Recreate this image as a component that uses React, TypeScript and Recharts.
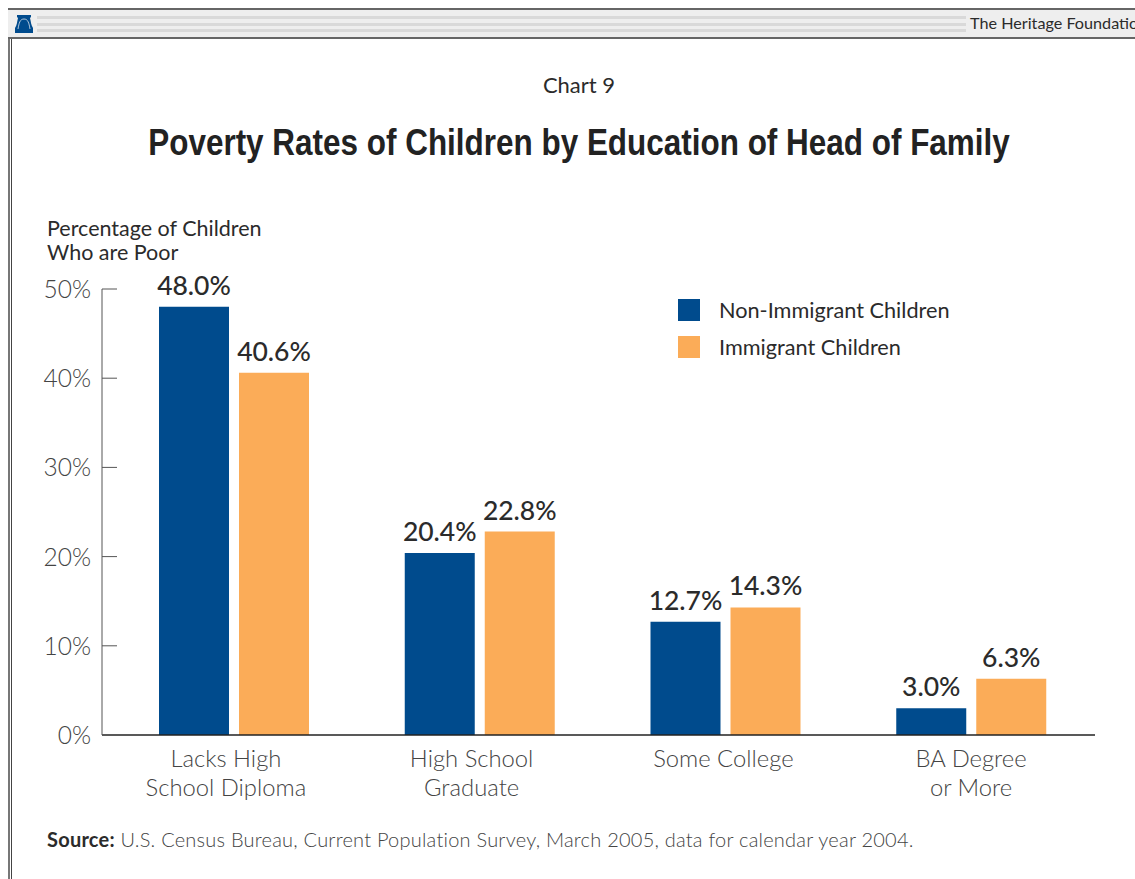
import { Bar, BarChart, LabelList, Legend, XAxis, YAxis } from "recharts";

const categories = [
  "Lacks High\nSchool Diploma",
  "High School\nGraduate",
  "Some College",
  "BA Degree\nor More",
];
const nonImmigrant = [48.0, 20.4, 12.7, 3.0];
const immigrant = [40.6, 22.8, 14.3, 6.3];
const yTicks = [0, 10, 20, 30, 40, 50];
const stripeRows = [16, 23, 29];

const data = categories.map((name, i) => ({
  name,
  nonImmigrant: nonImmigrant[i],
  immigrant: immigrant[i],
}));

const BLUE = "#004b8d";
const ORANGE = "#fbac58";
const INK = "#2b2b2b";
const SOFT = "#444444";
const FONT = "Lato, sans-serif";

// the first two category captions sit a little left of their bar pairs
const captionShift = [-8, -8, -2, 0];

function YTick({ x, y, payload }: any) {
  return (
    <g>
      {payload.value !== 0 && <line x1={x} x2={x + 15} y1={y} y2={y} stroke="#555" />}
      <text
        x={x - 11}
        y={y + 9}
        textAnchor="end"
        fontFamily={FONT}
        fontWeight={300}
        fontSize={24.5}
        fill={SOFT}
      >
        {payload.value}%
      </text>
    </g>
  );
}

function XTick({ x, y, payload, index }: any) {
  return (
    <text textAnchor="middle" fontFamily={FONT} fontWeight={300} fontSize={23.8} fill={SOFT}>
      {String(payload.value)
        .split("\n")
        .map((line, i) => (
          <tspan key={line} x={x + captionShift[index]} y={y + 32 + i * 29}>
            {line}
          </tspan>
        ))}
    </text>
  );
}

function LegendRows({ payload }: any) {
  return (
    <div>
      {payload.map((entry: any) => (
        <div
          key={entry.value}
          style={{ display: "flex", alignItems: "center", height: 37.5, fontFamily: FONT, fontSize: 21.7, color: INK }}
        >
          <span style={{ width: 22, height: 22, marginRight: 19, background: entry.color }} />
          {entry.value}
        </div>
      ))}
    </div>
  );
}

function Frame() {
  return (
    <>
      <div style={{ position: "absolute", left: 8, top: 8, width: 1127, height: 871, borderLeft: "2px solid #777", boxSizing: "border-box" }} />
      <div style={{ position: "absolute", left: 11, top: 38, width: 1124, height: 841, borderLeft: "1px solid #444", boxSizing: "border-box" }} />
      <div
        style={{
          position: "absolute",
          left: 8,
          top: 8,
          width: 1127,
          height: 31,
          background: "#eeeeee",
          borderTop: "2px solid #666",
          borderBottom: "2px solid #666",
          boxSizing: "border-box",
          overflow: "hidden",
        }}
      >
        {stripeRows.map((top) => (
          <div key={top} style={{ position: "absolute", left: 29, top: top - 10, width: 929, height: 3, background: "#d9d9d9" }} />
        ))}
        <svg style={{ position: "absolute", left: 6, top: 5 }} width={20} height={19} viewBox="0 0 20 19">
          <path d="M3 0h14v2l-1 1c1 4 1 7 3 10v5H1v-5c2-3 2-6 3-10L3 2z" fill={BLUE} />
          <path d="M4 14c1-6 2-10 6-10s5 4 6 10" fill="none" stroke="#dfe6ee" strokeWidth={0.8} />
        </svg>
        <div
          style={{
            position: "absolute",
            left: 962,
            top: 3,
            fontFamily: FONT,
            fontSize: 16.2,
            color: INK,
            whiteSpace: "nowrap",
          }}
        >
          The Heritage Foundation
        </div>
      </div>
    </>
  );
}

export default function App() {
  return (
    <div style={{ position: "absolute", left: 0, top: 0, width: 1135, height: 879, overflow: "hidden", background: "#fff" }}>
      <Frame />
      <div style={{ position: "absolute", left: 0, width: 1158, top: 71, textAlign: "center", fontFamily: FONT, fontSize: 22, color: INK }}>
        Chart 9
      </div>
      <div
        style={{
          position: "absolute",
          left: 0,
          width: 1158,
          top: 122,
          textAlign: "center",
          fontFamily: "'Liberation Sans', sans-serif",
          fontWeight: 700,
          fontSize: 37,
          color: "#222",
          transform: "scaleX(0.85)",
        }}
      >
        Poverty Rates of Children by Education of Head of Family
      </div>
      <div style={{ position: "absolute", left: 47, top: 216, fontFamily: FONT, fontSize: 21.5, lineHeight: "24px", color: INK }}>
        Percentage of Children
        <br />
        Who are Poor
      </div>
      <BarChart
        width={1135}
        height={879}
        data={data}
        margin={{ top: 289, right: 40, bottom: 24, left: 0 }}
        barSize={70}
        barGap={10}
        style={{ position: "absolute", left: 0, top: 0 }}
      >
        <XAxis
          dataKey="name"
          height={120}
          padding={{ left: 9, right: 1 }}
          tickLine={false}
          axisLine={{ stroke: "#222", strokeWidth: 1.5 }}
          tick={<XTick />}
          interval={0}
          tickSize={0}
          tickMargin={0}
        />
        <YAxis
          width={102}
          domain={[0, 50]}
          ticks={yTicks}
          tickLine={false}
          axisLine={{ stroke: "#555" }}
          tick={<YTick />}
          interval={0}
          tickSize={0}
          tickMargin={0}
        />
        <Legend
          layout="horizontal"
          verticalAlign="middle"
          align="center"
          itemSorter={null}
          content={<LegendRows />}
          wrapperStyle={{ left: 678, top: 291, width: 320, height: 76, bottom: "auto" }}
        />
        <Bar dataKey="nonImmigrant" name="Non-Immigrant Children" fill={BLUE} isAnimationActive={false}>
          <LabelList
            dataKey="nonImmigrant"
            position="top"
            offset={12}
            formatter={(v: any) => `${Number(v).toFixed(1)}%`}
            style={{ fontFamily: FONT, fontSize: 26.5, fontWeight: 500, fill: INK }}
          />
        </Bar>
        <Bar dataKey="immigrant" name="Immigrant Children" fill={ORANGE} isAnimationActive={false}>
          <LabelList
            dataKey="immigrant"
            position="top"
            offset={12}
            formatter={(v: any) => `${Number(v).toFixed(1)}%`}
            style={{ fontFamily: FONT, fontSize: 26.5, fontWeight: 500, fill: INK }}
          />
        </Bar>
      </BarChart>
      <div style={{ position: "absolute", left: 47, top: 827, fontFamily: FONT, fontSize: 20, fontWeight: 300, letterSpacing: 0.23, color: SOFT, whiteSpace: "nowrap" }}>
        <b style={{ fontWeight: 700, color: INK }}>Source:</b> U.S. Census Bureau, Current Population Survey, March 2005, data for calendar year 2004.
      </div>
    </div>
  );
}
